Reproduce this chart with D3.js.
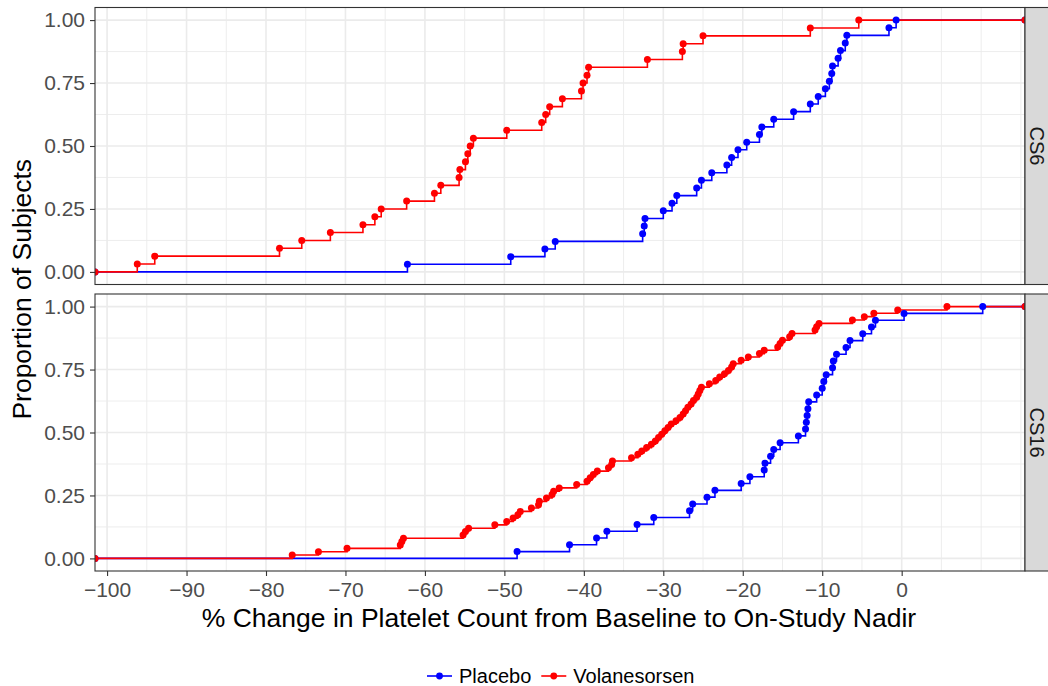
<!DOCTYPE html>
<html>
<head>
<meta charset="utf-8">
<script src="https://cdn.jsdelivr.net/npm/d3@7"></script>
<style>
  html, body { margin: 0; padding: 0; background: #fff; }
  svg { display: block; font-family: "Liberation Sans", Arial, sans-serif; }
</style>
</head>
<body>
<svg id="chart" width="1048" height="686"></svg>
<script>
// Facet (study) labels
const studies = ["CS6", "CS16"];
// Treatment groups
const groups = ["Placebo", "Volanesorsen"];
const groupColors = ["#0000FF", "#FF0000"];

// % change in platelet count, baseline to on-study nadir, one value per subject
const cs6Placebo = [-62.2, -49.2, -44.9, -43.6, -32.6, -32.4, -32.3, -30.0, -28.9, -28.3,
  -25.8, -25.2, -23.9, -22.0, -21.4, -20.6, -19.5, -17.9, -17.6, -16.1, -13.6, -11.5,
  -10.5, -9.6, -9.1, -8.8, -8.7, -8.0, -7.7, -7.1, -6.9, -1.6, -0.7];
const cs6Volanesorsen = [-96.2, -94.0, -78.3, -75.5, -71.9, -67.8, -66.3, -65.5, -62.3,
  -58.8, -58.0, -55.7, -55.6, -54.9, -54.6, -54.3, -53.9, -49.7, -45.3, -44.8, -44.3,
  -42.7, -40.3, -40.1, -39.6, -39.4, -32.0, -27.6, -27.5, -25.0, -11.5, -5.4];
const cs16Placebo = [-48.4, -41.8, -38.4, -37.1, -33.3, -31.2, -26.7, -26.3, -24.5, -23.5,
  -20.2, -19.1, -17.3, -17.2, -16.5, -16.1, -15.3, -13.0, -12.1, -12.0, -11.9, -11.8,
  -11.7, -10.7, -10.0, -9.8, -9.5, -8.7, -8.6, -8.2, -7.0, -6.5, -4.9, -3.8, -3.3, 0.3, 10.2];
const cs16Volanesorsen = [-76.7, -73.4, -69.8, -63.1, -62.9, -62.7, -55.2, -54.9, -54.5,
  -51.2, -49.7, -48.9, -48.3, -48.0, -46.6, -45.7, -45.6, -44.7, -44.0, -43.8, -43.1,
  -40.9, -39.6, -39.2, -38.8, -38.3, -36.9, -36.5, -36.4, -34.0, -33.2, -32.7, -32.1,
  -31.5, -31.0, -30.6, -30.2, -29.8, -29.4, -29.0, -28.4, -27.9, -27.5, -27.2, -26.9,
  -26.5, -26.2, -25.8, -25.6, -25.4, -25.2, -24.2, -23.4, -22.9, -22.3, -21.8, -21.4,
  -21.2, -20.2, -19.3, -17.9, -17.3, -15.6, -15.3, -15.0, -14.1, -13.8, -10.9, -10.7,
  -10.4, -6.2, -4.7, -3.5, -0.5, 5.7];

// Axis ticks
const xTicks = [-100, -90, -80, -70, -60, -50, -40, -30, -20, -10, 0];
const yTicks = [0, 0.25, 0.5, 0.75, 1];
const yTickLabels = ["0.00", "0.25", "0.50", "0.75", "1.00"];

const seriesByStudy = [
  [cs6Placebo, cs6Volanesorsen],
  [cs16Placebo, cs16Volanesorsen]
];

const svg = d3.select("#chart");

const panelLeft = 95, panelRight = 1025;
const panelTops = [7.5, 294];
const panelHeight = 277;
const stripWidth = 30;

// x scale with 5% expansion on each side of the data range
const allVals = seriesByStudy.flat(2);
const [xMin, xMax] = d3.extent(allVals);
const pad = (xMax - xMin) * 0.05;
const x = d3.scaleLinear().domain([xMin - pad, xMax + pad]).range([panelLeft, panelRight]);

// minor grid lines halfway between major ticks (extended one step past the last break)
const xMinor = d3.range(-105, 20, 10).filter(v => v > x.domain()[0] && v < x.domain()[1]).concat([10]);
const yMinor = [0.125, 0.375, 0.625, 0.875];

const defs = svg.append("defs");

function ecdf(vals) {
  const s = vals.slice().sort((a, b) => a - b);
  const n = s.length;
  return s.map((v, i) => ({ x: v, y: (i + 1) / n }));
}

panelTops.forEach((top, pi) => {
  const y = d3.scaleLinear().domain([-0.05, 1.05]).range([top + panelHeight, top]);
  const g = svg.append("g");

  const clipId = "clip" + pi;
  defs.append("clipPath").attr("id", clipId)
    .append("rect").attr("x", panelLeft).attr("y", top)
    .attr("width", panelRight - panelLeft).attr("height", panelHeight);

  // background
  g.append("rect").attr("x", panelLeft).attr("y", top)
    .attr("width", panelRight - panelLeft).attr("height", panelHeight).attr("fill", "#fff");

  const grid = g.append("g").attr("clip-path", `url(#${clipId})`);
  // minor grid
  grid.selectAll(".vminor").data(xMinor).join("line")
    .attr("x1", d => x(d)).attr("x2", d => x(d)).attr("y1", top).attr("y2", top + panelHeight)
    .attr("stroke", "#EBEBEB").attr("stroke-width", 0.9);
  grid.selectAll(".hminor").data(yMinor).join("line")
    .attr("x1", panelLeft).attr("x2", panelRight).attr("y1", d => y(d)).attr("y2", d => y(d))
    .attr("stroke", "#EBEBEB").attr("stroke-width", 0.9);
  // major grid
  grid.selectAll(".vmajor").data(xTicks).join("line")
    .attr("x1", d => x(d)).attr("x2", d => x(d)).attr("y1", top).attr("y2", top + panelHeight)
    .attr("stroke", "#EBEBEB").attr("stroke-width", 1.6);
  grid.selectAll(".hmajor").data(yTicks).join("line")
    .attr("x1", panelLeft).attr("x2", panelRight).attr("y1", d => y(d)).attr("y2", d => y(d))
    .attr("stroke", "#EBEBEB").attr("stroke-width", 1.6);

  const data = g.append("g").attr("clip-path", `url(#${clipId})`);
  const line = d3.line().x(d => d.px).y(d => y(d.y)).curve(d3.curveStepAfter);

  const series = seriesByStudy[pi].map((vals, gi) => {
    const pts = ecdf(vals).map(d => ({ px: x(d.x), y: d.y }));
    const full = [{ px: panelLeft, y: 0 }].concat(pts, [{ px: panelRight, y: 1 }]);
    return { gi, full };
  });

  series.forEach(s => {
    data.append("path").datum(s.full).attr("d", line)
      .attr("fill", "none").attr("stroke", groupColors[s.gi]).attr("stroke-width", 1.6);
  });
  series.forEach(s => {
    data.selectAll(null).data(s.full).join("circle")
      .attr("cx", d => d.px).attr("cy", d => y(d.y)).attr("r", 3.5)
      .attr("fill", groupColors[s.gi]);
  });

  // panel border
  g.append("rect").attr("x", panelLeft).attr("y", top)
    .attr("width", panelRight - panelLeft).attr("height", panelHeight)
    .attr("fill", "none").attr("stroke", "#333").attr("stroke-width", 1.1);

  // strip
  g.append("rect").attr("x", panelRight).attr("y", top)
    .attr("width", stripWidth).attr("height", panelHeight)
    .attr("fill", "#D9D9D9").attr("stroke", "#333").attr("stroke-width", 1.1);
  g.append("text")
    .attr("transform", `translate(${panelRight + 12},${top + panelHeight / 2}) rotate(90)`)
    .attr("text-anchor", "middle").attr("dy", "0.35em")
    .attr("font-size", 20).attr("fill", "#1A1A1A").text(studies[pi]);

  // y axis
  const yAxis = d3.axisLeft(y).tickValues(yTicks).tickFormat((d, i) => yTickLabels[i])
    .tickSize(5).tickPadding(5);
  const ya = g.append("g").attr("transform", `translate(${panelLeft},0)`).call(yAxis);
  ya.select(".domain").remove();
  ya.selectAll(".tick line").attr("stroke", "#333").attr("stroke-width", 1.1);
  ya.selectAll(".tick text").attr("font-size", 21).attr("fill", "#4D4D4D")
    .attr("font-family", "Liberation Sans, Arial, sans-serif");

  if (pi === 1) {
    const xAxis = d3.axisBottom(x).tickValues(xTicks).tickFormat(d3.format("d"))
      .tickSize(5).tickPadding(6);
    const xa = g.append("g").attr("transform", `translate(0,${top + panelHeight})`).call(xAxis);
    xa.select(".domain").remove();
    xa.selectAll(".tick line").attr("stroke", "#333").attr("stroke-width", 1.1);
    xa.selectAll(".tick text").attr("font-size", 21).attr("fill", "#4D4D4D")
      .attr("font-family", "Liberation Sans, Arial, sans-serif");
  }
});

// axis titles
svg.append("text").attr("x", 559).attr("y", 627)
  .attr("text-anchor", "middle").attr("font-size", 26.5).attr("fill", "#000")
  .text("% Change in Platelet Count from Baseline to On-Study Nadir");
svg.append("text")
  .attr("transform", `translate(31,${(panelTops[0] + panelTops[1] + panelHeight) / 2}) rotate(-90)`)
  .attr("text-anchor", "middle").attr("font-size", 26.5).attr("fill", "#000")
  .text("Proportion of Subjects");

// legend
const legend = svg.append("g").attr("transform", "translate(427,676)");
let lx = 0;
groups.forEach((name, i) => {
  const item = legend.append("g").attr("transform", `translate(${lx},0)`);
  item.append("line").attr("x1", 0).attr("x2", 25).attr("y1", 0).attr("y2", 0)
    .attr("stroke", groupColors[i]).attr("stroke-width", 1.6);
  item.append("circle").attr("cx", 12.5).attr("cy", 0).attr("r", 3.4).attr("fill", groupColors[i]);
  const t = item.append("text").attr("x", 32).attr("y", 0).attr("dy", "0.35em")
    .attr("font-size", 20).attr("fill", "#000").text(name);
  lx += 32 + t.node().getComputedTextLength() + 10;
});
</script>
</body>
</html>
